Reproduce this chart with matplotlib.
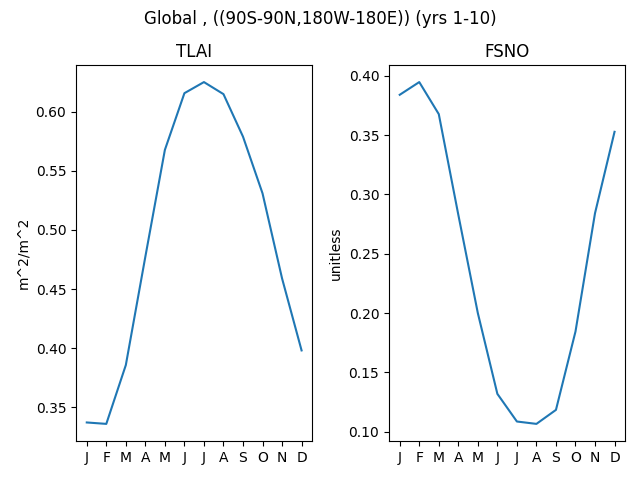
import numpy as np
import matplotlib
matplotlib.use('Agg')
import matplotlib.pyplot as plt

months = ['J', 'F', 'M', 'A', 'M', 'J', 'J', 'A', 'S', 'O', 'N', 'D']
tlai = [0.337, 0.3358, 0.3856, 0.4774, 0.5678, 0.6158, 0.6252, 0.615, 0.579, 0.531, 0.459, 0.398]
fsno = [0.384, 0.3947, 0.3677, 0.2829, 0.2, 0.132, 0.1087, 0.1067, 0.1185, 0.1845, 0.2842, 0.3528]

fig, axes = plt.subplots(1, 2, figsize=(6.4, 4.8))
x = np.arange(len(months))

axes[0].plot(x, tlai)
axes[0].set_title('TLAI')
axes[0].set_ylabel('m^2/m^2')

axes[1].plot(x, fsno)
axes[1].set_title('FSNO')
axes[1].set_ylabel('unitless')

for ax in axes:
    ax.set_xticks(x)
    ax.set_xticklabels(months)

fig.suptitle('Global , ((90S-90N,180W-180E)) (yrs 1-10)')
fig.subplots_adjust(left=0.1188, right=0.977, top=0.8646, bottom=0.0813, wspace=0.3245)
fig.savefig('out.png', dpi=100)
